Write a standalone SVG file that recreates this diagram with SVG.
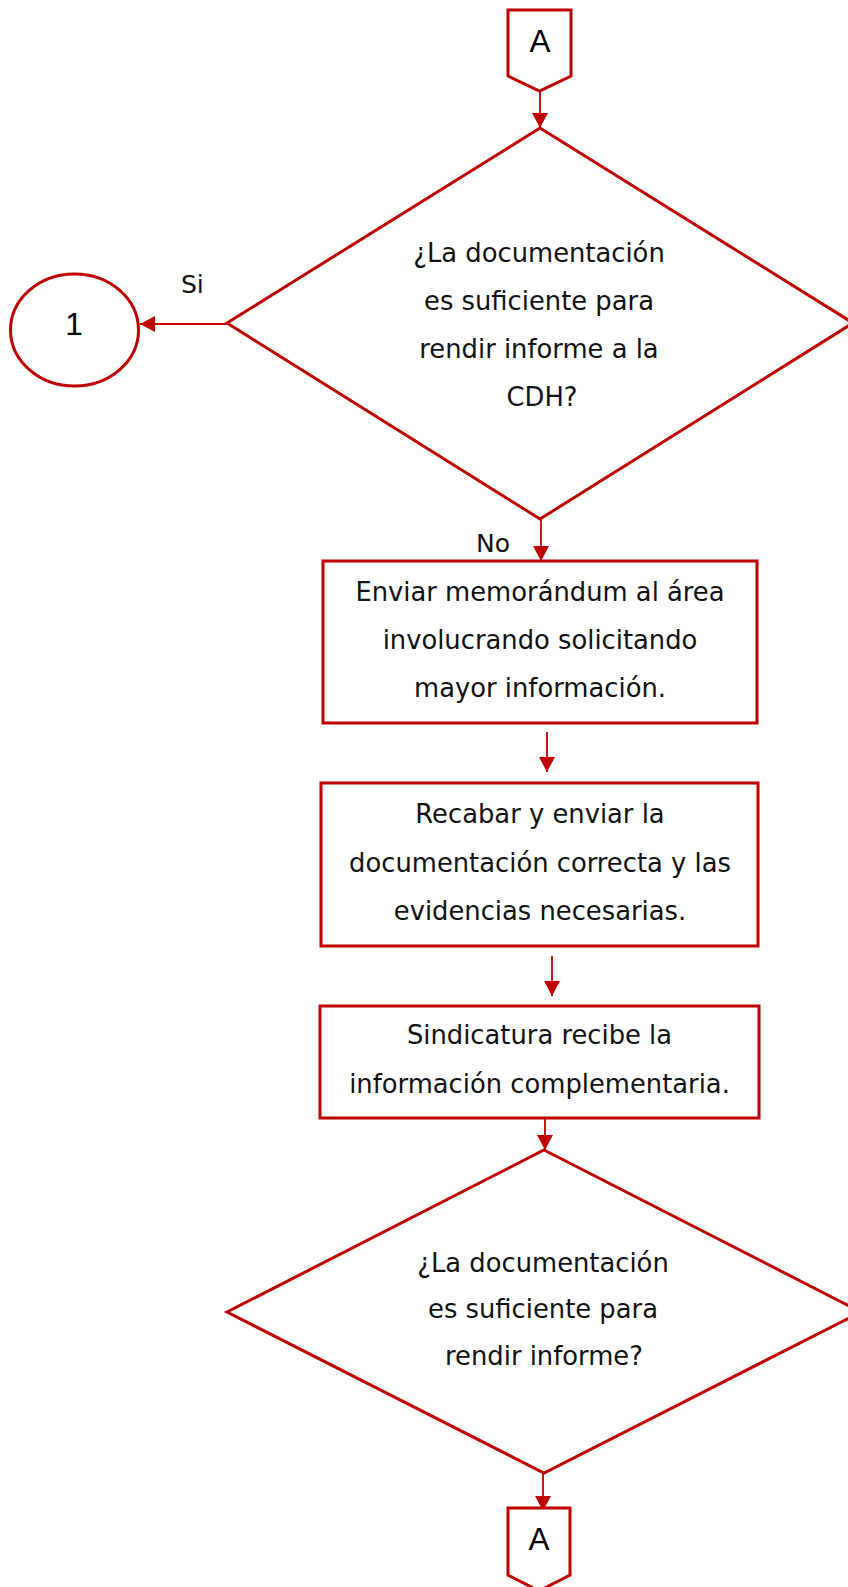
<svg xmlns="http://www.w3.org/2000/svg" width="848" height="1587" viewBox="0 0 848 1587">
<style>
.shape{fill:#FFFFFF;stroke:#C00000;stroke-width:3}
.conn{fill:none;stroke:#C00000;stroke-width:1.8}
.t{font-family:"DejaVu Sans","Liberation Sans",sans-serif;font-size:25.8px;fill:#111111;text-anchor:middle}
.ta{font-family:"Liberation Sans",Arial,sans-serif;font-size:31.5px;fill:#000000;text-anchor:middle}
.lbl{font-family:"DejaVu Sans","Liberation Sans",sans-serif;font-size:25px;fill:#111111}
</style>
<defs>
<marker id="arr" markerUnits="userSpaceOnUse" markerWidth="15" markerHeight="16" refX="15" refY="8" orient="auto">
<path d="M0,0 L15,8 L0,16 z" fill="#C00000"/>
</marker>
</defs>
<rect width="848" height="1587" fill="#FFFFFF"/>
<g id="connectors">
<line class="conn" x1="540" y1="91" x2="540" y2="128" marker-end="url(#arr)"/>
<line class="conn" x1="227" y1="324" x2="140" y2="324" marker-end="url(#arr)"/>
<line class="conn" x1="541" y1="519" x2="541" y2="561" marker-end="url(#arr)"/>
<line class="conn" x1="547" y1="732" x2="547" y2="772" marker-end="url(#arr)"/>
<line class="conn" x1="552" y1="956" x2="552" y2="996" marker-end="url(#arr)"/>
<line class="conn" x1="545" y1="1109" x2="545" y2="1150" marker-end="url(#arr)"/>
<line class="conn" x1="543" y1="1473" x2="543" y2="1511" marker-end="url(#arr)"/>
<text class="lbl" x="181" y="293">Si</text>
<text class="lbl" x="476" y="552">No</text>
</g>
<g id="offpage-top">
<polygon class="shape" points="508,10 571,10 571,76 539.5,91 508,76"/>
<text class="ta" x="540" y="52">A</text>
</g>
<g id="decision1">
<polygon class="shape" points="540,128 853,323 540,519 227,323"/>
<text class="t" x="539" y="262">¿La documentación</text>
<text class="t" x="539" y="310">es suficiente para</text>
<text class="t" x="539" y="358">rendir informe a la</text>
<text class="t" x="542" y="406">CDH?</text>
</g>
<g id="connector1">
<ellipse class="shape" cx="74.5" cy="330" rx="64" ry="56"/>
<text class="ta" x="74" y="334.5">1</text>
</g>
<g id="box1">
<rect class="shape" x="323" y="561" width="434" height="162"/>
<text class="t" x="540" y="601">Enviar memorándum al área</text>
<text class="t" x="540" y="649">involucrando solicitando</text>
<text class="t" x="540" y="697">mayor información.</text>
</g>
<g id="box2">
<rect class="shape" x="321" y="783" width="437" height="163"/>
<text class="t" x="540" y="823">Recabar y enviar la</text>
<text class="t" x="540" y="871.5">documentación correcta y las</text>
<text class="t" x="540" y="920">evidencias necesarias.</text>
</g>
<g id="box3">
<rect class="shape" x="320" y="1006" width="439" height="112"/>
<text class="t" x="539.5" y="1044">Sindicatura recibe la</text>
<text class="t" x="539.5" y="1093">información complementaria.</text>
</g>
<g id="decision2">
<polygon class="shape" points="544,1150 861,1312 544,1473 227,1312"/>
<text class="t" x="543" y="1272">¿La documentación</text>
<text class="t" x="543" y="1318">es suficiente para</text>
<text class="t" x="544" y="1365">rendir informe?</text>
</g>
<g id="offpage-bottom">
<polygon class="shape" points="508,1508 570,1508 570,1575 539,1591 508,1575"/>
<text class="ta" x="539" y="1550">A</text>
</g>
</svg>
